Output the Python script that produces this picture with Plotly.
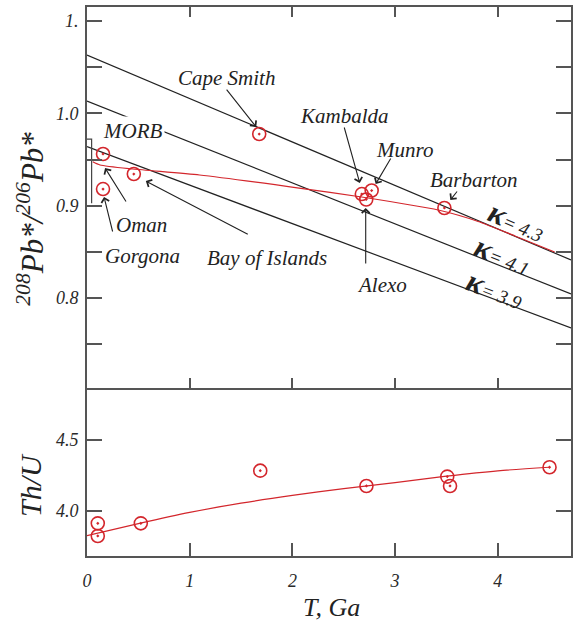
import plotly.graph_objects as go

# ---- data -------------------------------------------------------------
# Age axis (Ga)
t_ticks = [0, 1, 2, 3, 4]
t_labels = ["0", "1", "2", "3", "4"]

# 208Pb*/206Pb* of the komatiite / basalt suites
pb_names = ["Oman", "Gorgona", "Bay of Islands", "Cape Smith",
            "Kambalda", "Alexo", "Munro", "Barbarton"]
pb_age = [0.156, 0.156, 0.456, 1.677, 2.676, 2.719, 2.772, 3.480]
pb_ratio = [0.956, 0.918, 0.9343, 0.9776, 0.9126, 0.9067, 0.9164, 0.8975]

# MORB range bar at the present day
morb_age = [0.0, 0.045, 0.045]
morb_ratio = [0.972, 0.972, 0.9025]

# Constant-kappa reference lines (ratio at T = 0 and at T = 4.713 Ga)
kappa_T = [0.0, 4.713]
kappa_43 = [1.0632, 0.8412]
kappa_41 = [1.0134, 0.8043]
kappa_39 = [0.9639, 0.7675]

# Mantle evolution model, 208Pb*/206Pb*
model_T = [0.056, 0.127, 0.447, 1.096, 2.065, 2.674, 3.420, 3.809, 4.167, 4.554]
model_ratio = [0.9476, 0.9441, 0.9397, 0.9332, 0.9191, 0.9094, 0.8953,
               0.8829, 0.8672, 0.8498]

# Th/U of the same suites
thu_age = [0.105, 0.105, 0.524, 1.687, 2.721, 3.508, 3.535, 4.504]
thu = [3.913, 3.824, 3.913, 4.284, 4.176, 4.242, 4.176, 4.308]

# Mantle evolution model, Th/U
thu_model_T = [0.0, 0.5, 1.0, 1.5, 2.0, 2.5, 3.0, 3.5, 4.0, 4.5]
thu_model = [3.826, 3.911, 3.990, 4.055, 4.110, 4.158, 4.200, 4.245, 4.283, 4.308]

# Y tick positions / labels
pb_ticks = [0.75, 0.8, 0.85, 0.9, 0.95, 1.0, 1.05, 1.1]
pb_ticktext = ["", "0.8", "", "0.9", "", "1.0", "", "1."]
thu_ticks = [4.0, 4.5]
thu_ticktext = ["4.0", "4.5"]

# ---- style ------------------------------------------------------------
RED = "#d3262c"
INK = "#222222"
FRAME = "#555555"
FONT = "Liberation Serif"

fig = go.Figure()

# kappa lines (top panel)
for vals in (kappa_43, kappa_41, kappa_39):
    fig.add_trace(go.Scatter(x=kappa_T, y=vals, mode="lines",
                             line=dict(color=INK, width=1.2),
                             xaxis="x2", yaxis="y2", hoverinfo="skip"))

# MORB bar
fig.add_trace(go.Scatter(x=morb_age, y=morb_ratio, mode="lines",
                         line=dict(color="#444444", width=1.2),
                         xaxis="x2", yaxis="y2", hoverinfo="skip"))

# model curve (top)
fig.add_trace(go.Scatter(x=model_T, y=model_ratio, mode="lines",
                         line=dict(color=RED, width=1.2, shape="spline", smoothing=0.6),
                         xaxis="x2", yaxis="y2", hoverinfo="skip"))

# samples (top)
fig.add_trace(go.Scatter(x=pb_age, y=pb_ratio, mode="markers", text=pb_names,
                         marker=dict(symbol="circle-open-dot", size=13, color=RED,
                                     line=dict(width=1.6, color=RED)),
                         xaxis="x2", yaxis="y2"))

# model curve (bottom)
fig.add_trace(go.Scatter(x=thu_model_T, y=thu_model, mode="lines",
                         line=dict(color=RED, width=1.2, shape="spline", smoothing=0.8),
                         xaxis="x", yaxis="y", hoverinfo="skip"))

# samples (bottom)
fig.add_trace(go.Scatter(x=thu_age, y=thu, mode="markers",
                         marker=dict(symbol="circle-open-dot", size=13, color=RED,
                                     line=dict(width=1.6, color=RED)),
                         xaxis="x", yaxis="y"))

# ---- annotations ------------------------------------------------------
ann = []
lab_font = dict(family=FONT, size=21, color=INK, style="italic")


def label(text, x, y, bg=None):
    d = dict(text=text, x=x, y=y, xref="x2", yref="y2", showarrow=False,
             font=lab_font, xanchor="center", yanchor="middle")
    if bg:
        d.update(bgcolor=bg, borderpad=2)
    ann.append(d)


def arrow(x, y, ax, ay):
    ann.append(dict(text="", x=x, y=y, ax=ax, ay=ay, xref="x2", yref="y2",
                    axref="x2", ayref="y2", showarrow=True, arrowhead=4,
                    arrowsize=1.4, arrowwidth=1.1, arrowcolor=INK, standoff=0,
                    startstandoff=0))


label("Cape Smith", 1.358, 1.0383)
label("Kambalda", 2.51, 0.9971)
label("Munro", 3.092, 0.9603)
label("Barbarton", 3.771, 0.9278)
label("MORB", 0.447, 0.9809, bg="white")
label("Oman", 0.534, 0.8791)
label("Gorgona", 0.544, 0.8455)
label("Bay of Islands", 1.755, 0.8433)
label("Alexo", 2.87, 0.814)

arrow(1.648, 0.9852, 1.348, 1.0274)   # Cape Smith
arrow(2.656, 0.9246, 2.501, 0.9863)   # Kambalda
arrow(2.811, 0.9235, 2.966, 0.9527)   # Munro
arrow(3.538, 0.9061, 3.615, 0.9170)   # Barbarton
arrow(2.714, 0.8975, 2.714, 0.8357)   # Alexo
arrow(0.573, 0.9267, 1.580, 0.8682)   # Bay of Islands
arrow(0.176, 0.9408, 0.389, 0.9029)   # Oman
arrow(0.166, 0.9094, 0.253, 0.8704)   # Gorgona

# kappa labels along the reference lines
for txt, x, y, ang in (("4.3", 4.187, 0.8834, 23),
                       ("4.1", 4.051, 0.8455, 22),
                       ("3.9", 3.973, 0.8087, 21)):
    ann.append(dict(text="<b><span style='font-size:31px'>κ</span></b>= " + txt,
                    x=x, y=y, xref="x2", yref="y2", showarrow=False,
                    xanchor="center", yanchor="middle", textangle=ang,
                    font=dict(family=FONT, size=19, color=INK, style="italic")))

# axis titles
ann.append(dict(text="<sup>208</sup>Pb*/<sup>206</sup>Pb*", x=-0.117, y=0.615,
                xref="paper", yref="paper", showarrow=False, textangle=-90,
                xanchor="center", yanchor="middle",
                font=dict(family=FONT, size=31, color=INK, style="italic")))
ann.append(dict(text="Th/U", x=-0.117, y=0.13, xref="paper", yref="paper",
                showarrow=False, textangle=-90, xanchor="center", yanchor="middle",
                font=dict(family=FONT, size=30, color=INK, style="italic")))
ann.append(dict(text="T, Ga", x=0.505, y=-0.093, xref="paper", yref="paper",
                showarrow=False, xanchor="center", yanchor="middle",
                font=dict(family=FONT, size=26, color=INK, style="italic")))

tick_font = dict(family=FONT, size=18, color="#2a2a2a", style="italic")
axis_common = dict(showline=True, linecolor=FRAME, linewidth=1.6,
                   ticks="inside", tickcolor=FRAME, tickwidth=1.5,
                   showgrid=False, zeroline=False, tickfont=tick_font)

fig.update_layout(
    width=574, height=623,
    margin=dict(l=87, r=1, t=7, b=67),
    paper_bgcolor="white", plot_bgcolor="white",
    showlegend=False,
    # bottom panel: its top edge is drawn by the upper panel's axis line
    xaxis=dict(domain=[0, 1], anchor="y", range=[0, 4.713], tickvals=t_ticks,
               ticktext=t_labels, ticklen=13, ticklabelstandoff=8, mirror=False,
               **axis_common),
    yaxis=dict(domain=[0, 0.306], anchor="x", range=[3.683, 4.866],
               tickvals=thu_ticks, ticktext=thu_ticktext, ticklen=15,
               ticklabelstandoff=3, mirror="ticks", **axis_common),
    xaxis2=dict(domain=[0, 1], anchor="y2", matches="x", range=[0, 4.713],
                tickvals=t_ticks, showticklabels=False, ticklen=10,
                mirror="ticks", **axis_common),
    yaxis2=dict(domain=[0.306, 1], anchor="x2", range=[0.7025, 1.1152],
                tickvals=pb_ticks, ticktext=pb_ticktext, ticklen=15,
                ticklabelstandoff=3, mirror="ticks", **axis_common),
    annotations=ann,
)

fig.write_html("out.html")
